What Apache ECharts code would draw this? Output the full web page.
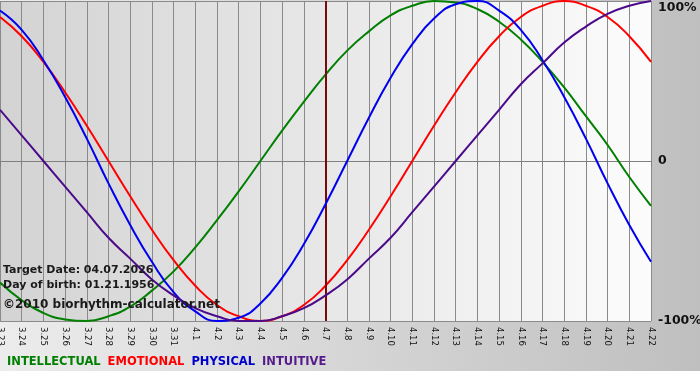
<!DOCTYPE html>
<html>
<head>
<meta charset="utf-8">
<script src="https://cdn.jsdelivr.net/npm/echarts@6/dist/echarts.min.js"></script>
<style>
html,body{margin:0;padding:0;background:#fff;}
#chart{width:700px;height:380px;}
</style>
</head>
<body>
<div id="chart"></div>
<script>
var days = ['3.23','3.24','3.25','3.26','3.27','3.28','3.29','3.30','3.31','4.1','4.2','4.3','4.4','4.5','4.6','4.7','4.8','4.9','4.10','4.11','4.12','4.13','4.14','4.15','4.16','4.17','4.18','4.19','4.20','4.21','4.22'];
var intellectual = [-0.76,-0.87,-0.95,-0.99,-1.00,-0.97,-0.91,-0.81,-0.69,-0.54,-0.37,-0.19,0.00,0.19,0.37,0.54,0.69,0.81,0.91,0.97,1.00,0.99,0.95,0.87,0.76,0.62,0.46,0.28,0.10,-0.10,-0.28];
var emotional = [0.90,0.78,0.62,0.43,0.22,0.00,-0.22,-0.43,-0.62,-0.78,-0.90,-0.97,-1.00,-0.97,-0.90,-0.78,-0.62,-0.43,-0.22,0.00,0.22,0.43,0.62,0.78,0.90,0.97,1.00,0.97,0.90,0.78,0.62];
var physical = [0.94,0.82,0.63,0.40,0.14,-0.14,-0.40,-0.63,-0.82,-0.94,-1.00,-0.98,-0.89,-0.73,-0.52,-0.27,0.00,0.27,0.52,0.73,0.89,0.98,1.00,0.94,0.82,0.63,0.40,0.14,-0.14,-0.40,-0.63];
var intuitive = [0.32,0.16,0.00,-0.16,-0.32,-0.48,-0.61,-0.74,-0.84,-0.92,-0.97,-1.00,-1.00,-0.97,-0.92,-0.84,-0.74,-0.61,-0.48,-0.32,-0.16,0.00,0.16,0.32,0.48,0.61,0.74,0.84,0.92,0.97,1.00];
var yTicks = {'1':'100%','0':'0','-1':'-100%'};
var targetDay = '4.7';
var infoLines = ['Target Date: 04.07.2026','Day of birth: 01.21.1956','\u00a92010 biorhythm-calculator.net'];

var names = ['INTELLECTUAL','EMOTIONAL','PHYSICAL','INTUITIVE'];
var colors = ['#007f00','#ff0000','#0000ee','#4b0a8a'];
var legendColors = ['#007f00','#ff0000','#0000cc','#551a8b'];
var datas = [intellectual, emotional, physical, intuitive];

var chart = echarts.init(document.getElementById('chart'), null, {renderer:'canvas'});
var series = names.map(function(n,i){
  return {
    name:n, type:'line', data:datas[i], smooth:0.5, symbol:'none',
    lineStyle:{color:colors[i], width:2}, itemStyle:{color:colors[i]}, z:3+i
  };
});
series[0].markLine = {
  silent:true, symbol:'none', animation:false,
  label:{show:false},
  lineStyle:{color:'#7a0a0a', width:2, type:'solid'},
  data:[{xAxis:targetDay}]
};

chart.setOption({
  animation:false,
  backgroundColor:{type:'linear',x:0,y:0,x2:1,y2:0,colorStops:[{offset:0,color:'#ececec'},{offset:1,color:'#bfbfbf'}]},
  grid:{left:0,right:49,top:1,bottom:59,show:true,borderWidth:0,outerBoundsMode:'none',containLabel:false,
    backgroundColor:{type:'linear',x:0,y:0,x2:1,y2:0,colorStops:[{offset:0,color:'#d3d3d3'},{offset:1,color:'#fcfcfc'}]}},
  legend:{
    left:2, top:356, padding:0, icon:'none', itemWidth:0, itemHeight:0, itemGap:2,
    data:names.map(function(n,i){return {name:n, textStyle:{color:legendColors[i]}};}),
    textStyle:{fontFamily:'DejaVu Sans', fontWeight:'bold', fontSize:11.5},
    selectedMode:false
  },
  xAxis:{
    type:'category', data:days, boundaryGap:false,
    axisLine:{show:true, lineStyle:{color:'#808080', width:1}},
    axisTick:{show:true, length:5, interval:0, lineStyle:{color:'#808080'}},
    axisLabel:{interval:0, rotate:-90, margin:6, fontSize:8.5, fontFamily:'DejaVu Sans', color:'#111', hideOverlap:false},
    splitLine:{show:true, interval:0, lineStyle:{color:'#8a8a8a', width:1}}
  },
  yAxis:{
    type:'value', position:'right', min:-1, max:1, interval:1,
    axisLine:{show:false}, axisTick:{show:false},
    axisLabel:{formatter:function(v){return yTicks[String(v)];}, margin:7, fontSize:12.5, fontWeight:'bold',
      fontFamily:'DejaVu Sans', color:'#111', verticalAlignMaxLabel:'top'},
    splitLine:{show:true, lineStyle:{color:'#8a8a8a', width:1}}
  },
  graphic:[
    {type:'rect', left:0, top:371, shape:{width:700, height:9}, style:{fill:'#ffffff'}, silent:true, z:-1},
    {type:'text', left:3, top:265, z:10, style:{text:infoLines[0], fill:'#1a1a1a', font:'bold 11px "DejaVu Sans"'}},
    {type:'text', left:3, top:280, z:10, style:{text:infoLines[1], fill:'#1a1a1a', font:'bold 11px "DejaVu Sans"'}},
    {type:'text', left:3, top:299, z:10, style:{text:infoLines[2], fill:'#1a1a1a', font:'bold 12px "DejaVu Sans"'}}
  ],
  series:series
});
</script>
</body>
</html>
